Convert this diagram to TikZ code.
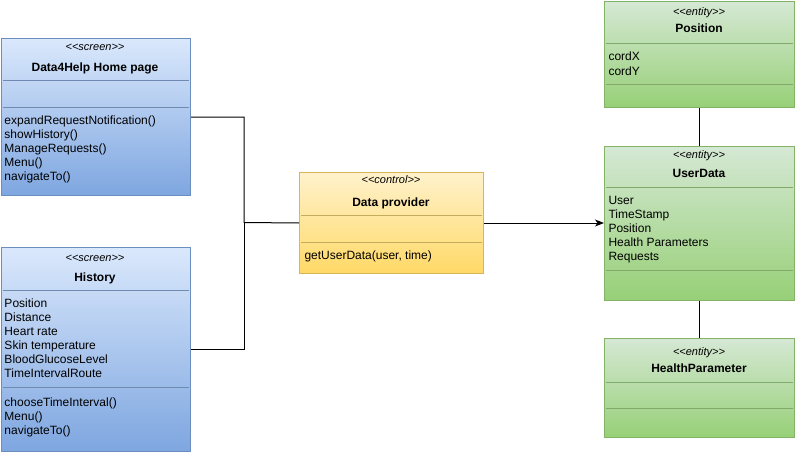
\documentclass[tikz,border=0pt]{standalone}
\usepackage{fontspec}
\setmainfont{Liberation Sans}
\usetikzlibrary{arrows.meta,positioning}

\definecolor{scrtop}{HTML}{DAE8FC}
\definecolor{scrbot}{HTML}{7EA6E0}
\definecolor{scrline}{HTML}{6C8EBF}
\definecolor{ctltop}{HTML}{FFF2CC}
\definecolor{ctlbot}{HTML}{FFD966}
\definecolor{ctlline}{HTML}{D6B656}
\definecolor{enttop}{HTML}{D5E8D4}
\definecolor{entbot}{HTML}{97D077}
\definecolor{entline}{HTML}{82B366}

\begin{document}
\begin{tikzpicture}
    [x=1pt, y=-1pt, line width=1pt]
    \tikzset{cls/.style = {rectangle, anchor=north west, inner sep=0pt,
                           draw=#1line, top color=#1top, bottom color=#1bot},
             sep/.style = {draw=#1line!80!gray, line width=0.8pt},
             stereo/.style = {inner sep=0pt, anchor=base, font=\fontsize{11}{13}\selectfont\itshape},
             title/.style = {inner sep=0pt, anchor=base, font=\fontsize{12}{14}\selectfont\bfseries},
             member/.style = {inner sep=0pt, anchor=base west, font=\fontsize{12}{14}\selectfont},
             link/.style = {draw=black, > = {Stealth[length=9pt, width=7pt, inset=2.5pt]}}}
    \useasboundingbox (0,0) rectangle (795,452);

    % screens
    \node[cls=scr, minimum width=189pt, minimum height=157pt] (home) at (1,38) {};
    \node[stereo] (home-st) at (95,51) {{<}{<}screen{>}{>}};
    \node[title] (home-t) at (95,71) {Data4Help Home page};
    \draw[sep=scr] ([xshift=2pt]home.west |- 0,80) -- ([xshift=-2pt]home.east |- 0,80);
    \draw[sep=scr] ([xshift=2pt]home.west |- 0,107) -- ([xshift=-2pt]home.east |- 0,107);
    \foreach \m [count=\i] in {expandRequestNotification(), showHistory(),
                               ManageRequests(), Menu(), navigateTo()}
        \node[member] (home-m\i) at (4,110+14*\i) {\m};

    \node[cls=scr, minimum width=189pt, minimum height=204pt] (hist) at (1,247) {};
    \node[stereo] (hist-st) at (95,261) {{<}{<}screen{>}{>}};
    \node[title] (hist-t) at (95,281) {History};
    \draw[sep=scr] ([xshift=2pt]hist.west |- 0,290) -- ([xshift=-2pt]hist.east |- 0,290);
    \foreach \m [count=\i] in {Position, Distance, Heart rate, Skin temperature,
                               BloodGlucoseLevel, TimeIntervalRoute}
        \node[member] (hist-a\i) at (4,293+14*\i) {\m};
    \draw[sep=scr] ([xshift=2pt]hist.west |- 0,387) -- ([xshift=-2pt]hist.east |- 0,387);
    \foreach \m [count=\i] in {chooseTimeInterval(), Menu(), navigateTo()}
        \node[member] (hist-m\i) at (4,392+14*\i) {\m};

    % control
    \node[cls=ctl, minimum width=184pt, minimum height=101pt] (ctrl) at (299,172) {};
    \node[stereo] (ctrl-st) at (391,183) {{<}{<}control{>}{>}};
    \node[title] (ctrl-t) at (391,206) {Data provider};
    \draw[sep=ctl] ([xshift=2pt]ctrl.west |- 0,215) -- ([xshift=-2pt]ctrl.east |- 0,215);
    \draw[sep=ctl] ([xshift=2pt]ctrl.west |- 0,242) -- ([xshift=-2pt]ctrl.east |- 0,242);
    \node[member] (ctrl-m1) at (304,259) {getUserData(user, time)};

    % entities
    \node[cls=ent, minimum width=190pt, minimum height=106pt] (pos) at (604,1) {};
    \node[stereo] (pos-st) at (699,16) {{<}{<}entity{>}{>}};
    \node[title] (pos-t) at (699,33) {Position};
    \draw[sep=ent] ([xshift=2pt]pos.west |- 0,43) -- ([xshift=-2pt]pos.east |- 0,43);
    \foreach \m [count=\i] in {cordX, cordY}
        \node[member] (pos-a\i) at (608,47+14*\i) {\m};
    \draw[sep=ent] ([xshift=2pt]pos.west |- 0,84) -- ([xshift=-2pt]pos.east |- 0,84);

    \node[cls=ent, minimum width=190pt, minimum height=154pt] (udata) at (604,146) {};
    \node[stereo] (udata-st) at (699,158) {{<}{<}entity{>}{>}};
    \node[title] (udata-t) at (699,177) {UserData};
    \draw[sep=ent] ([xshift=2pt]udata.west |- 0,187) -- ([xshift=-2pt]udata.east |- 0,187);
    \foreach \m [count=\i] in {User, TimeStamp, Position, Health Parameters, Requests}
        \node[member] (udata-a\i) at (608,190+14*\i) {\m};
    \draw[sep=ent] ([xshift=2pt]udata.west |- 0,270) -- ([xshift=-2pt]udata.east |- 0,270);

    \node[cls=ent, minimum width=190pt, minimum height=99pt] (hpar) at (604,338) {};
    \node[stereo] (hpar-st) at (699,355) {{<}{<}entity{>}{>}};
    \node[title] (hpar-t) at (699,372) {HealthParameter};
    \draw[sep=ent] ([xshift=2pt]hpar.west |- 0,382) -- ([xshift=-2pt]hpar.east |- 0,382);
    \draw[sep=ent] ([xshift=2pt]hpar.west |- 0,408) -- ([xshift=-2pt]hpar.east |- 0,408);

    % links
    \coordinate (join) at (244,222.5);
    \draw[link] (home.east) -| (join) -- (ctrl.west);
    \draw[link] (hist.east) -| (join);
    \draw[link,->] (ctrl.east) -- (ctrl.east -| udata.west);
    \draw[link] (pos.south) -- (udata.north);
    \draw[link] (udata.south) -- (hpar.north);
\end{tikzpicture}
\end{document}
